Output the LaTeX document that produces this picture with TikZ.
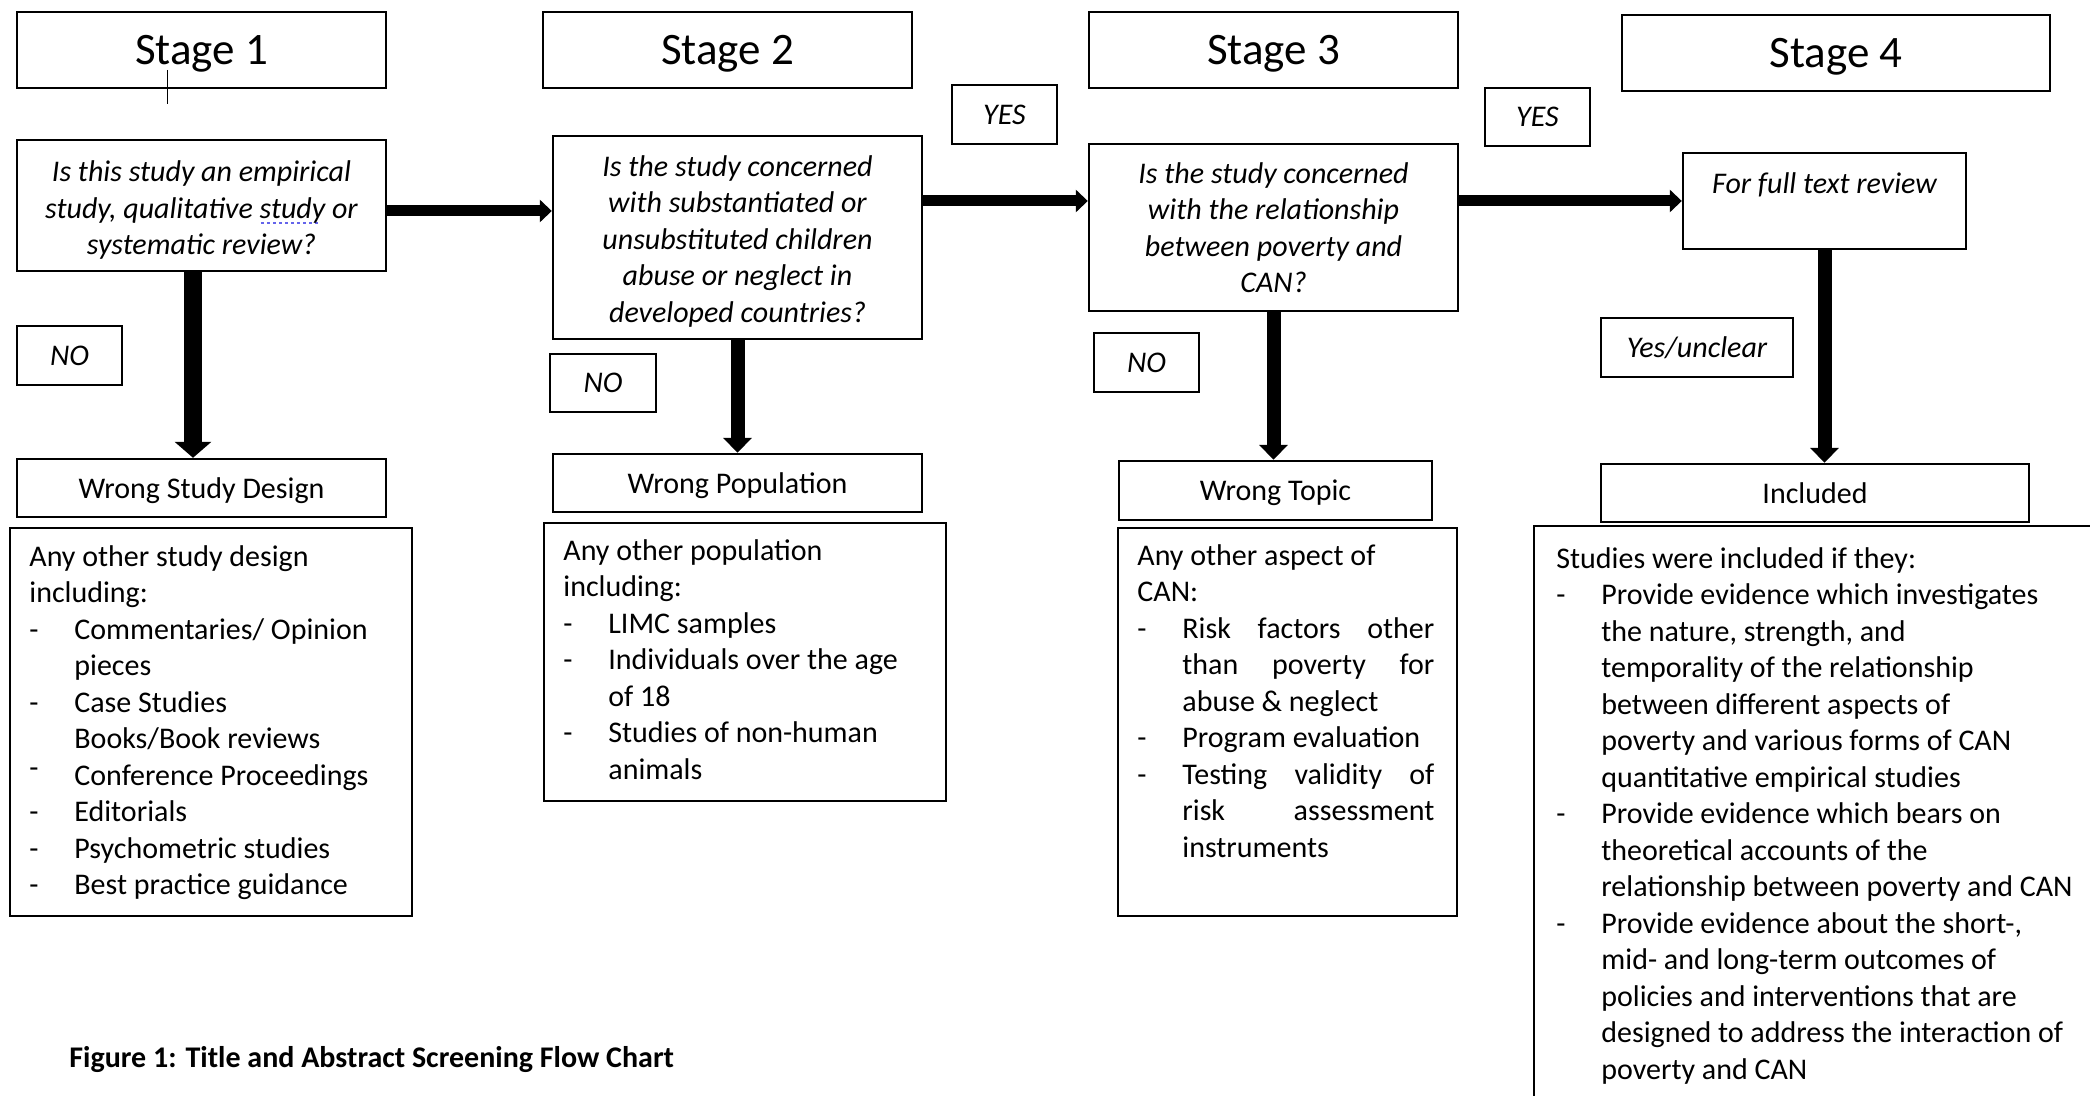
\documentclass[tikz,border=0pt]{standalone}
\usepackage{fontspec}
\setmainfont{Carlito}
\usetikzlibrary{arrows.meta,calc}
\definecolor{gblue}{RGB}{100,100,235}
\newcommand\myBody{\fontsize{15}{18.25}\selectfont}
\newcommand\myStage{\fontsize{22.5}{27}\selectfont}
\newlength\sqw
\newcommand\sqline[1]{\settowidth\sqw{#1}\makebox[0pt][l]{\raisebox{-3pt}{\color{gblue}\leaders\hbox to 3pt{\hss\rule{1.8pt}{1.1pt}\hss}\hskip\sqw}}#1}
\newcommand\dsh{\makebox[22.5pt][l]{-}}
\newcommand\ind{\hspace*{22.5pt}}
\begin{document}
\begin{tikzpicture}[x=0.5pt,y=-0.5pt,
  box/.style={draw=black, line width=1.2pt, inner sep=0pt, align=center, font=\myBody},
  sbox/.style={box, text depth=0pt},
  sz/.style 2 args={minimum width={#1*0.5pt}, minimum height={#2*0.5pt}},
  stagebox/.style={sbox, font=\myStage},
  qbox/.style={box, font=\myBody\itshape},
  qtxt/.style={inner sep=0pt, align=center, font=\myBody\itshape},
  lblbox/.style={sbox, font=\myBody\itshape},
  harrow/.style={line width=5.5pt, -{Triangle[width=11pt,length=6pt]}},
  varrowA/.style={line width=9pt, -{Triangle[width=18pt,length=8pt]}},
  varrow/.style={line width=7pt, -{Triangle[width=14pt,length=7.5pt]}},
  lt/.style={anchor=north west, inner sep=0pt, align=left, font=\myBody}]
\useasboundingbox (0,0) rectangle (2090,1096);
\clip (0,0) rectangle (2090,1096);

% stage headers
\node[stagebox, sz={369}{76}] (s1) at (201.5,50) {Stage 1};
\node[stagebox, sz={369}{76}] (s2) at (727.5,50) {Stage 2};
\node[stagebox, sz={369}{76}] (s3) at (1273.5,50) {Stage 3};
\node[stagebox, sz={428}{76}] (s4) at (1836,53) {Stage 4};

% stray tick
\coordinate (tk1) at (167.5,70);
\coordinate (tk2) at (167.5,104);
\draw[line width=0.8pt] (tk1) -- (tk2);

% questions
\node[qbox, sz={369}{131}] (q1) at (201.5,205.5) {};
\node[qtxt] (q1t) at ([yshift=-2.3pt]q1.center) {Is this study an empirical\\ study, qualitative \sqline{study} or\\ systematic review?};
\node[qbox, sz={369}{203}] (q2) at (737.5,237.5) {};
\node[qtxt] (q2t) at ([yshift=-1.8pt]q2.center) {Is the study concerned\\ with substantiated or\\ unsubstituted children\\ abuse or neglect in\\ developed countries?};
\node[qbox, sz={369}{167}] (q3) at (1273.5,227.5) {Is the study concerned\\ with the relationship\\ between poverty and\\ CAN?};
\node[qbox, sz={283}{96}] (q4) at (1824.5,201) {For full text review\\ \mbox{}};

% yes / no labels
\node[lblbox, sz={105}{59}] (yes1) at (1004.5,114.5) {YES};
\node[lblbox, sz={105}{58}] (yes2) at (1537.5,117) {YES};
\node[lblbox, sz={105}{59}] (no1) at (69.5,355.5) {NO};
\node[lblbox, sz={106}{58}] (no2) at (603,383) {NO};
\node[lblbox, sz={105}{59}] (no3) at (1146.5,362.5) {NO};
\node[lblbox, sz={192}{59}] (yu) at (1697,347.5) {Yes/unclear};

% outcome boxes
\node[sbox, sz={369}{58}] (wsd) at (201.5,488) {Wrong Study Design};
\node[sbox, sz={369}{58}] (wp) at (737.5,483) {Wrong Population};
\node[sbox, sz={313}{59}] (wt) at (1275.5,490.5) {Wrong Topic};
\node[sbox, sz={428}{58}] (inc) at (1815,493) {Included};

% list boxes
\node[box, sz={402}{388}, anchor=north west] (l1) at (9,527) {};
\node[box, sz={402}{278}, anchor=north west] (l2) at (543,522) {};
\node[box, sz={339}{388}, anchor=north west] (l3) at (1117,527) {};
\node[box, sz={600}{620}, anchor=north west] (l4) at (1533,525) {};

\node[lt] (l1t) at (29,545) {Any other study design\\ including:\\ \dsh Commentaries/ Opinion\\ \ind pieces\\ \dsh Case Studies\\ \ind Books/Book reviews\\ \makebox[22.5pt][l]{\raisebox{4pt}{-}}Conference Proceedings\\ \dsh Editorials\\ \dsh Psychometric studies\\ \dsh Best practice guidance};
\node[lt] (l2t) at (563,539) {Any other population\\ including:\\ \dsh LIMC samples\\ \dsh Individuals over the age\\ \ind of 18\\ \dsh Studies of non-human\\ \ind animals};
\node[lt] (l3t) at (1137,544) {Any other aspect of\\ CAN:\\ \dsh\makebox[126pt][s]{Risk factors other}\\ \ind\makebox[126pt][s]{than poverty for}\\ \ind abuse \& neglect\\ \dsh Program evaluation\\ \dsh\makebox[126pt][s]{Testing validity of}\\ \ind\makebox[126pt][s]{risk assessment}\\ \ind instruments};
\node[lt] (l4t) at (1556,547) {Studies were included if they:\\ \dsh Provide evidence which investigates\\ \ind the nature, strength, and\\ \ind temporality of the relationship\\ \ind between different aspects of\\ \ind poverty and various forms of CAN\\ \ind quantitative empirical studies\\ \dsh Provide evidence which bears on\\ \ind theoretical accounts of the\\ \ind relationship between poverty and CAN\\ \dsh Provide evidence about the short-,\\ \ind mid- and long-term outcomes of\\ \ind policies and interventions that are\\ \ind designed to address the interaction of\\ \ind poverty and CAN};

% caption
\node[anchor=west, inner sep=0pt, font=\myBody\bfseries] (cap) at (69,1060) {Figure 1: Title and Abstract Screening Flow Chart};

% horizontal arrows
\coordinate (h1) at ([yshift=-2.75pt]q1.east);
\draw[harrow] (h1) -- (h1 -| q2.west);
\coordinate (h2) at ([yshift=18.25pt]q2.east);
\draw[harrow] (h2) -- (h2 -| q3.west);
\coordinate (h3) at ([yshift=13.25pt]q3.east);
\draw[harrow] (h3) -- (h3 -| q4.west);

% vertical arrows
\coordinate (v1) at ([xshift=-4.25pt]q1.south);
\draw[varrowA] (v1) -- (v1 |- wsd.north);
\draw[varrow] (q2.south) -- (q2.south |- wp.north);
\draw[varrow] (q3.south) -- (q3.south |- wt.north);
\draw[varrow] (q4.south) -- (q4.south |- inc.north);
\end{tikzpicture}
\end{document}
